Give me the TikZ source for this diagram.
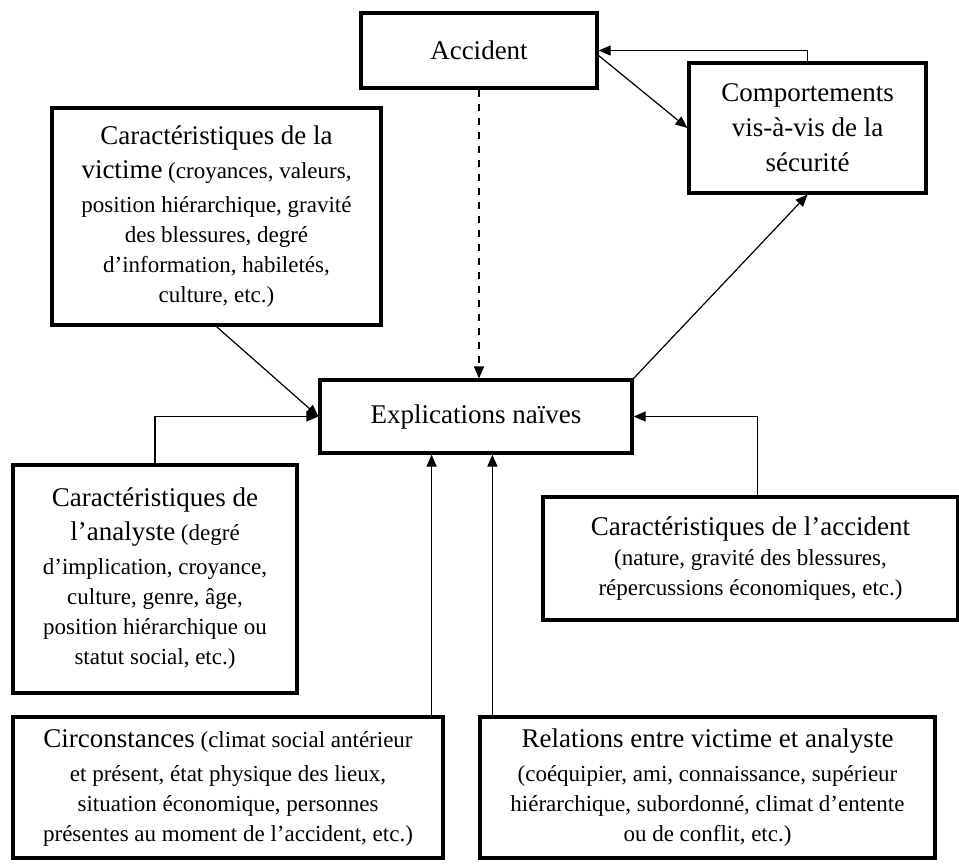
\documentclass[tikz,border=0pt]{standalone}
\usepackage{fontspec}
\setmainfont{Liberation Serif}
\usetikzlibrary{arrows.meta}
\newcommand\titre{\fontsize{13.5}{17.5}\selectfont}
\newcommand\detail{\fontsize{11.5}{15}\selectfont}
\colorlet{box edge}{black}
\tikzset{boite/.style={draw=box edge, line width=1.6pt, align=center, inner sep=0pt, font=\detail},
    fleche/.style={-{Triangle[length=6pt,width=5pt]}, line width=0.6pt},
    tirets/.style={fleche, dash pattern=on 3.5pt off 3.5pt}}

\begin{document}
\begin{tikzpicture}[x=0.5pt, y=-0.5pt]
    \useasboundingbox (0,0) rectangle (959,864);
    \node[boite, minimum width=118pt, minimum height=37.5pt, font=\titre] (accident) at (479,50.5) {Accident};
    \node[boite, minimum width=118.5pt, minimum height=65pt, font=\titre] (comport) at (807.5,128)
      {Comportements\\vis-à-vis de la\\sécurité};
    \node[boite, minimum width=164.5pt, minimum height=108.5pt] (victime) at (216.5,216.5)
      {{\titre Caractéristiques de la}\\[2pt]{\titre victime} (croyances, valeurs,\\[2pt]position hiérarchique, gravité\\des blessures, degré\\d’information, habiletés,\\culture, etc.)};
    \node[boite, minimum width=156pt, minimum height=36.5pt, font=\titre] (explic) at (476,416.5) {Explications naïves};
    \node[boite, minimum width=142pt, minimum height=114pt] (analyste) at (155,579)
      {{\titre Caractéristiques de}\\[2pt]{\titre l’analyste} (degré\\[2pt]d’implication, croyance,\\culture, genre, âge,\\position hiérarchique ou\\statut social, etc.)};
    \node[boite, minimum width=207.5pt, minimum height=61.5pt] (accchar) at (750.5,558.5)
      {{\titre Caractéristiques de l’accident}\\(nature, gravité des blessures,\\répercussions économiques, etc.)};
    \node[boite, minimum width=215pt, minimum height=70.5pt] (circ) at (228,787.5)
      {{\titre Circonstances} (climat social antérieur\\[2pt]et présent, état physique des lieux,\\situation économique, personnes\\présentes au moment de l’accident, etc.)};
    \node[boite, minimum width=227.5pt, minimum height=70.5pt] (relations) at (707.5,787.5)
      {{\titre Relations entre victime et analyste}\\[2pt](coéquipier, ami, connaissance, supérieur\\hiérarchique, subordonné, climat d’entente\\ou de conflit, etc.)};

    \draw[fleche] (comport.north) |- (accident.east);
    \draw[fleche] ([yshift=-2.5pt]accident.east) -- (comport.west);
    \draw[tirets] (accident.south) -- (accident.south |- explic.north);
    \draw[fleche] (explic.north east) -- (comport.south);
    \draw[fleche] (victime.south) -- (explic.west);
    \draw[fleche] (analyste.north) |- (explic.west);
    \draw[fleche] ([xshift=3.5pt]accchar.north) |- (explic.east);
    \coordinate (c1) at ([xshift=-6.5pt]circ.north east);
    \coordinate (c2) at ([xshift=7pt]relations.north west);
    \draw[fleche] (c1) -- (c1 |- explic.south);
    \draw[fleche] (c2) -- (c2 |- explic.south);
\end{tikzpicture}
\end{document}
